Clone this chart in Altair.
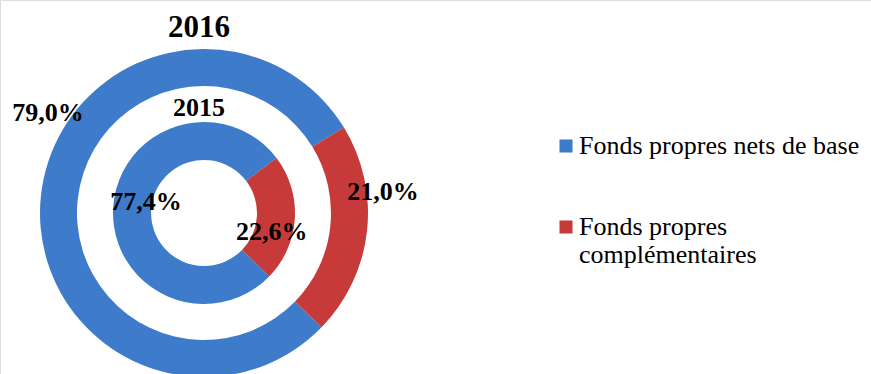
import math
import altair as alt
import pandas as pd

# ---- data ----
years = ["2016", "2016", "2015", "2015"]
categories = ["Fonds propres nets de base", "Fonds propres complémentaires",
              "Fonds propres nets de base", "Fonds propres complémentaires"]
values = [79.0, 21.0, 77.4, 22.6]
labels = ["79,0%", "21,0%", "77,4%", "22,6%"]
legend_order = ["Fonds propres nets de base", "Fonds propres complémentaires"]
colors = ["#3e7ccb", "#c63b39"]

df = pd.DataFrame({"year": years, "category": categories, "value": values, "label": labels})

CX, CY = 204, 213
FONT = "Liberation Serif"
start = math.radians(134.2)
theta_scale = alt.Scale(domain=[0, 100], range=[start, start + 2 * math.pi])
color_scale = alt.Scale(domain=legend_order, range=colors)

legend = alt.Legend(
    orient="none", legendX=553, legendY=133, title=None,
    symbolType="square", symbolSize=170, symbolStrokeWidth=0,
    labelFont=FONT, labelFontSize=26, labelLimit=0, labelOffset=0,
    labelColor="#000000", rowPadding=55,
    labelExpr="datum.label == 'Fonds propres complémentaires' ? ['Fonds propres', 'complémentaires'] : datum.label",
)


def stacked(year):
    return (
        alt.Chart(df)
        .transform_filter(alt.datum.year == year)
        .transform_stack(stack="value", as_=["v0", "v1"], groupby=["year"],
                         sort=[alt.SortField("category", order="descending")])
        .transform_calculate(mid="(datum.v0 + datum.v1) / 2")
    )


def ring(year, r_in, r_out, show_legend):
    return stacked(year).mark_arc(radius=r_out, radius2=r_in).encode(
        theta=alt.Theta("v0:Q", scale=theta_scale),
        theta2="v1:Q",
        color=alt.Color("category:N", scale=color_scale, sort=legend_order,
                        legend=legend if show_legend else None),
        x=alt.value(CX), y=alt.value(CY),
    )


def pct_label(year, cat, r, dx, dy):
    return (
        stacked(year)
        .transform_filter(alt.datum.category == cat)
        .mark_text(radius=r, dx=dx, dy=dy, font=FONT, fontSize=26, fontWeight="bold",
                   color="#000000", align="center", baseline="middle")
        .encode(theta=alt.Theta("mid:Q", scale=theta_scale), text="label:N",
                x=alt.value(CX), y=alt.value(CY))
    )


def year_label(year, r, size):
    return (
        alt.Chart(df)
        .transform_filter(alt.datum.year == year)
        .transform_aggregate(groupby=["year"], n="count()")
        .mark_text(radius=r, theta=0, dx=-5, font=FONT, fontSize=size, fontWeight="bold",
                   color="#000000", align="center", baseline="middle")
        .encode(text="year:N", x=alt.value(CX), y=alt.value(CY))
    )


blue, red = legend_order
chart = alt.layer(
    ring("2016", 127, 164, True),
    ring("2015", 53, 91, False),
    pct_label("2016", blue, 157, 0, -82),
    pct_label("2016", red, 180, 0, -41),
    pct_label("2015", blue, 58, 0, -7),
    pct_label("2015", red, 68, 0, 15),
    year_label("2016", 185, 31),
    year_label("2015", 105, 26),
).properties(
    width=871, height=374, padding=0, autosize=alt.AutoSizeParams(type="none"),
    background="#ffffff",
).configure_view(stroke=None).configure_legend(
    labelFont=FONT, labelFontSize=26, labelColor="#000000"
).configure(font=FONT)

chart.save("out.html", embed_options={"renderer": "svg", "actions": False})
